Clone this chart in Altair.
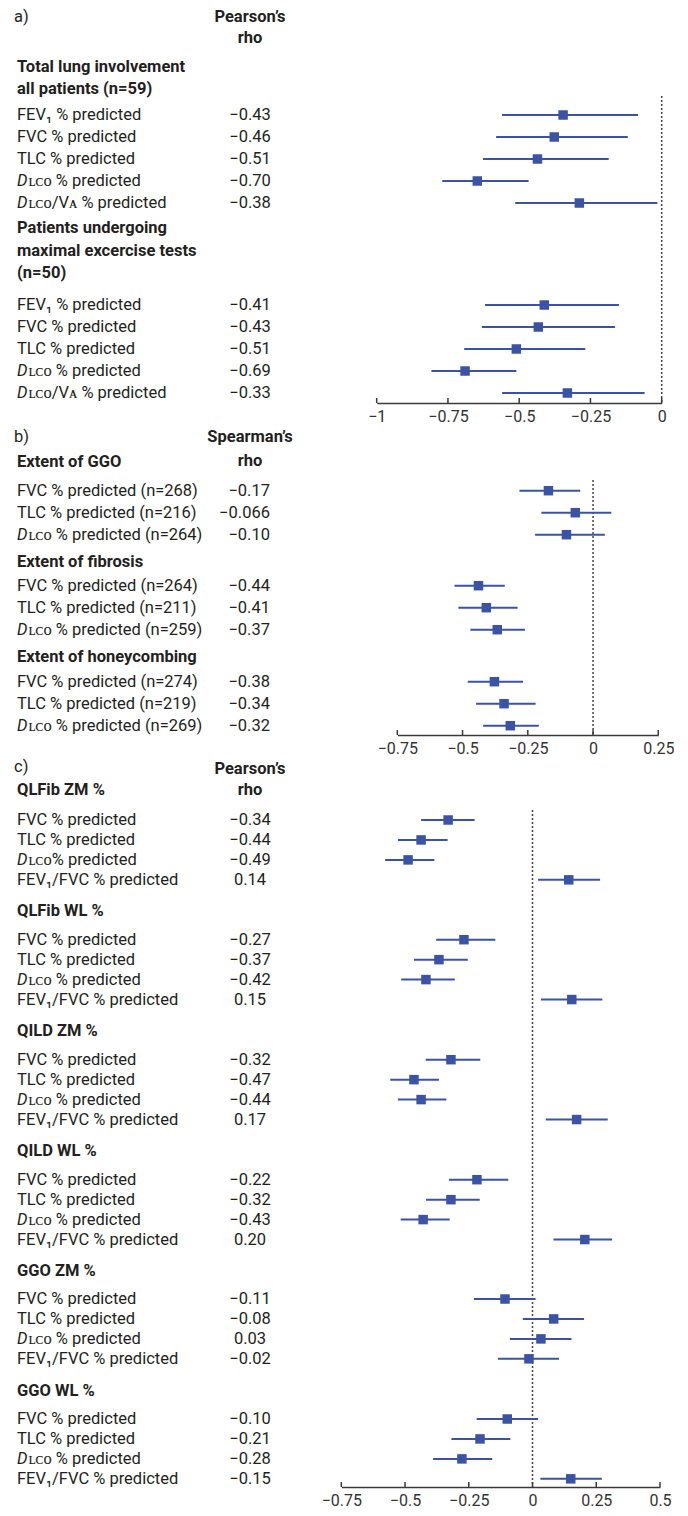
import altair as alt
import pandas as pd

# ---------------- data ----------------
# panel a
a_groups = ["Total lung involvement\nall patients (n=59)",
            "Patients undergoing\nmaximal excercise tests\n(n=50)"]
a_labels = [["FEV₁ % predicted", "FVC % predicted", "TLC % predicted",
             "Dʟᴄᴏ % predicted", "Dʟᴄᴏ/Vᴀ % predicted"]] * 2
a_rho = [["−0.43", "−0.46", "−0.51", "−0.70", "−0.38"],
         ["−0.41", "−0.43", "−0.51", "−0.69", "−0.33"]]
a_est = [[-0.346, -0.377, -0.436, -0.647, -0.289],
         [-0.412, -0.433, -0.510, -0.690, -0.331]]
a_lo = [[-0.560, -0.581, -0.627, -0.770, -0.514],
        [-0.620, -0.631, -0.693, -0.808, -0.560]]
a_hi = [[-0.083, -0.119, -0.186, -0.467, -0.015],
        [-0.150, -0.164, -0.268, -0.510, -0.060]]

# panel b
b_groups = ["Extent of GGO", "Extent of fibrosis", "Extent of honeycombing"]
b_labels = [["FVC % predicted (n=268)", "TLC % predicted (n=216)", "Dʟᴄᴏ % predicted (n=264)"],
            ["FVC % predicted (n=264)", "TLC % predicted (n=211)", "Dʟᴄᴏ % predicted (n=259)"],
            ["FVC % predicted (n=274)", "TLC % predicted (n=219)", "Dʟᴄᴏ % predicted (n=269)"]]
b_rho = [["−0.17", "−0.066", "−0.10"],
         ["−0.44", "−0.41", "−0.37"],
         ["−0.38", "−0.34", "−0.32"]]
b_est = [[-0.171, -0.068, -0.102], [-0.439, -0.409, -0.367], [-0.378, -0.341, -0.317]]
b_lo = [[-0.282, -0.198, -0.222], [-0.531, -0.516, -0.470], [-0.480, -0.448, -0.421]]
b_hi = [[-0.049, 0.070, 0.045], [-0.338, -0.289, -0.261], [-0.268, -0.220, -0.208]]

# panel c
c_groups = ["QLFib ZM %", "QLFib WL %", "QILD ZM %", "QILD WL %", "GGO ZM %", "GGO WL %"]
c_rows = ["FVC % predicted", "TLC % predicted", "Dʟᴄᴏ % predicted", "FEV₁/FVC % predicted"]
c_labels = [["FVC % predicted", "TLC % predicted", "Dʟᴄᴏ% predicted", "FEV₁/FVC % predicted"]] + [c_rows] * 5
c_rho = [["−0.34", "−0.44", "−0.49", "0.14"],
         ["−0.27", "−0.37", "−0.42", "0.15"],
         ["−0.32", "−0.47", "−0.44", "0.17"],
         ["−0.22", "−0.32", "−0.43", "0.20"],
         ["−0.11", "−0.08", "0.03", "−0.02"],
         ["−0.10", "−0.21", "−0.28", "−0.15"]]
c_est = [[-0.331, -0.437, -0.488, 0.142], [-0.269, -0.367, -0.418, 0.154],
         [-0.320, -0.465, -0.437, 0.173], [-0.218, -0.320, -0.429, 0.205],
         [-0.108, 0.083, 0.033, -0.014], [-0.099, -0.206, -0.277, 0.150]]
c_lo = [[-0.437, -0.528, -0.578, 0.022], [-0.378, -0.465, -0.515, 0.033],
        [-0.419, -0.558, -0.528, 0.052], [-0.328, -0.418, -0.517, 0.082],
        [-0.230, -0.038, -0.089, -0.136], [-0.219, -0.318, -0.390, 0.031]]
c_hi = [[-0.227, -0.333, -0.385, 0.265], [-0.146, -0.254, -0.305, 0.274],
        [-0.205, -0.367, -0.338, 0.295], [-0.095, -0.207, -0.325, 0.312],
        [0.012, 0.202, 0.153, 0.104], [0.022, -0.087, -0.158, 0.272]]

a_ticks = [-1, -0.75, -0.5, -0.25, 0]
b_ticks = [-0.75, -0.5, -0.25, 0, 0.25]
c_ticks = [-0.75, -0.5, -0.25, 0, 0.25, 0.5]

# ---------------- style / layout ----------------
FONT = "Roboto"
BLUE = "#3a53a4"
TXT = "#231f20"
W = 664
LX = 9       # label column left edge
DW = 11.5    # advance of the italic D
FS = 16.5


def build(groups, labels, rho, est, lo, hi, lay):
    rows, heads = [], []
    for g, title in enumerate(groups):
        for i, line in enumerate(title.split("\n")):
            heads.append({"text": line, "y": lay["head"][g] + i * lay["hline"]})
        for k, lab in enumerate(labels[g]):
            it = lab.startswith("Dʟᴄᴏ")
            rows.append(dict(rest=lab[1:] if it else lab, it=it, rho=rho[g][k],
                             est=est[g][k], lo=lo[g][k], hi=hi[g][k],
                             y=lay["row0"][g] + k * lay["pitch"]))
    return pd.DataFrame(rows), pd.DataFrame(heads)


def panel(groups, labels, rho, est, lo, hi, ticks, domain, rng, lay, H,
          letter, colhead, val_align, val_x):
    rows, heads = build(groups, labels, rho, est, lo, hi, lay)
    ys = alt.Scale(domain=[0, H], range=[0, H], nice=False, zero=False)
    Y = alt.Y("y:Q", scale=ys, axis=None, title=None)
    xs = alt.Scale(domain=domain, range=rng, nice=False, zero=False)
    AX = alt.Axis(values=ticks, labelExpr="format(datum.value, '.2~f')",
                  ticks=False, grid=False,
                  domainColor="#3a3a3a", domainWidth=1.5, labelFont=FONT,
                  labelFontSize=16, labelColor="#333333", labelPadding=5,
                  labelFlush=False)

    def X(f):
        return alt.X(f, scale=xs, axis=AX, title=None)

    base = alt.Chart(rows)
    ci = base.mark_rule(color=BLUE, strokeWidth=2).encode(x=X("lo:Q"), x2="hi:Q", y=Y)
    sq = base.mark_square(size=90, color=BLUE, opacity=1).encode(x=X("est:Q"), y=Y)
    zero = alt.Chart(pd.DataFrame({"v": [0]})).mark_rule(
        color="#444444", strokeWidth=1.5, strokeDash=[2, 2]).encode(
        x=X("v:Q"), y=alt.value(lay["ztop"]), y2=alt.value(H))
    tk = alt.Chart(pd.DataFrame({"t": ticks})).mark_rule(
        color="#3a3a3a", strokeWidth=1.5).encode(
        x=X("t:Q"), y=alt.value(H - 5), y2=alt.value(H))

    txt = dict(font=FONT, fontSize=FS, baseline="middle", color=TXT)
    hd = alt.Chart(heads).mark_text(align="left", fontWeight="bold", **txt).encode(
        x=alt.value(LX), y=Y, text="text:N")
    plain = base.transform_filter("!datum.it").mark_text(align="left", **txt).encode(
        x=alt.value(LX), y=Y, text="rest:N")
    dch = base.transform_filter("datum.it").mark_text(
        align="left", fontStyle="italic", **txt).encode(
        x=alt.value(LX), y=Y, text=alt.value("D"))
    drest = base.transform_filter("datum.it").mark_text(align="left", **txt).encode(
        x=alt.value(LX + DW), y=Y, text="rest:N")
    vals = base.mark_text(align=val_align, **txt).encode(
        x=alt.value(val_x), y=Y, text="rho:N")

    lt = alt.Chart(pd.DataFrame({"t": [letter], "y": [lay["letter"]]})).mark_text(
        align="left", **txt).encode(x=alt.value(LX - 3), y=Y, text="t:N")
    ch = alt.Chart(pd.DataFrame({"t": colhead, "y": lay["colhead"]})).mark_text(
        align="center", fontWeight="bold", **txt).encode(x=alt.value(242), y=Y, text="t:N")

    return alt.layer(zero, ci, sq, tk, hd, plain, dch, drest, vals, lt, ch).properties(
        width=W, height=H)


lay_a = dict(head=[58.7, 220.3], hline=22.5, row0=[107, 297], pitch=22, ztop=88,
             letter=9, colhead=[9, 30])
lay_b = dict(head=[58.7, 158.7, 254.3], hline=22.5, row0=[87.7, 182.7, 278.7], pitch=22,
             ztop=77, letter=33.7, colhead=[33.7, 57.7])
lay_c = dict(head=[55, 176, 296, 416, 536, 656], hline=22.5,
             row0=[85, 204.7, 324.7, 444.7, 564, 684], pitch=19.95, ztop=75,
             letter=31.7, colhead=[34, 55])

pa = panel(a_groups, a_labels, a_rho, a_est, a_lo, a_hi, a_ticks, [-1, 0], [368.7, 653.7],
           lay_a, 395, "a)", ["Pearson’s", "rho"], "center", 242)
pb = panel(b_groups, b_labels, b_rho, b_est, b_lo, b_hi, b_ticks, [-0.75, 0.25], [389.3, 650.3],
           lay_b, 332, "b)", ["Spearman’s", "rho"], "right", 262)
pc = panel(c_groups, c_labels, c_rho, c_est, c_lo, c_hi, c_ticks, [-0.75, 0.5], [333.3, 652],
           lay_c, 752, "c)", ["Pearson’s", "rho"], "center", 242)

chart = alt.vconcat(pa, pb, pc, spacing=0, bounds="flush", padding=0).configure_view(stroke=None)

chart.save("out.html", embed_options={"renderer": "svg", "actions": False})
